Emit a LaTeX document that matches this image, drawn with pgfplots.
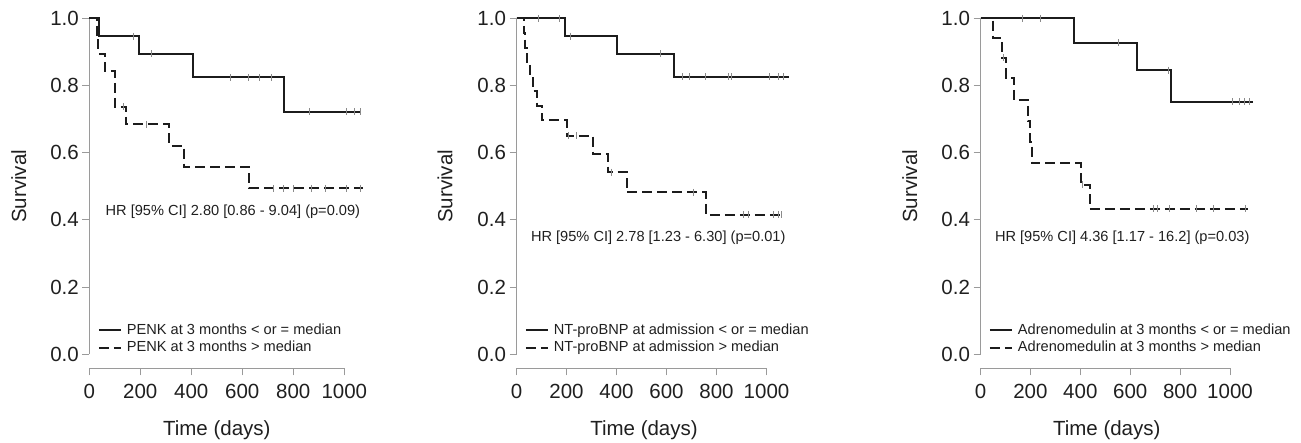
\documentclass[border=0pt]{standalone}
\usepackage{fontspec}
\setmainfont{Liberation Sans}
\usepackage{pgfplots}
\pgfplotsset{compat=1.18}
\definecolor{axgray}{HTML}{9A9A9A}
\definecolor{curve}{HTML}{1C1C1C}
\definecolor{cens}{HTML}{8A8A8A}
\tikzset{
 hrtext/.style={font=\fontsize{14.6bp}{17bp}\selectfont, text=black!88},
 bigtext/.style={font=\fontsize{20.5bp}{24bp}\selectfont, text=black!88},
}
\pgfplotsset{
 kmaxis/.style={
  scale only axis, height=350bp,
  xmin=0, xmax=1000, ymin=-0.0417, ymax=1,
  clip=false,
  axis x line=bottom, axis y line=left,
  axis line style={draw=none,-},
  xtick={0,200,400,600,800,1000}, xticklabels={0,200,400,600,800,1000},
  ytick={0,0.2,0.4,0.6,0.8,1}, yticklabels={0.0,0.2,0.4,0.6,0.8,1.0},
  tick align=outside, major tick length=7bp,
  tick style={axgray, line width=1bp},
  ticklabel style={font=\fontsize{20.5bp}{24bp}\selectfont, text=black!88},
  xticklabel style={yshift=-5bp},
  legend cell align=left,
  legend style={at={(0.033,0.084)}, anchor=west, draw=none, fill=none, inner sep=0pt,
    font=\fontsize{14.6bp}{17bp}\selectfont, text=black!88, row sep=0bp, column sep=3.5bp,
    nodes={inner sep=1.5bp, text height=11.5bp, text depth=3bp}},
  legend image code/.code={\draw[#1] (0bp,0bp) -- (22bp,0bp);},
 },
 surv/.style={const plot, curve, line width=2bp},
 survd/.style={const plot, curve, line width=2bp, dash pattern=on 10bp off 5bp},
 cmark/.style={only marks, mark=|, mark size=3.5bp, cens, line width=0.8bp, forget plot},
}
\begin{document}
\begin{tikzpicture}
% Panel 1: PENK
\begin{axis}[kmaxis, width=255bp, at={(89.3bp,74.7bp)}, anchor=south west]
 \draw[axgray, line width=1bp] (axis cs:0,0) -- (axis cs:0,1);
 \draw[axgray, line width=1bp] (axis cs:0,-0.0417) -- (axis cs:1000,-0.0417);
 \addplot[surv] coordinates {(0,1) (38,0.947) (196,0.894) (405,0.824) (762,0.722) (1067,0.722)};
 \addlegendentry{PENK at 3 months < or = median}
 \addplot[survd] coordinates {(0,1) (30,0.947) (35,0.895) (62,0.842) (100,0.737) (143,0.684) (314,0.621) (371,0.557) (628,0.494) (1074,0.494)};
 \addlegendentry{PENK at 3 months > median}
 \addplot[cmark] coordinates {(172,0.947) (245,0.894) (552,0.824) (624,0.824) (666,0.824) (715,0.824) (863,0.722) (1009,0.722) (1038,0.722) (1062,0.722)};
 \addplot[cmark] coordinates {(133,0.737) (222,0.684) (722,0.494) (761,0.494) (800,0.494) (872,0.494) (924,0.494) (1009,0.494) (1062,0.494)};
 \node[hrtext] at (axis cs:563,0.424) {HR [95\% CI] 2.80 [0.86 - 9.04] (p=0.09)};
 \node[bigtext, rotate=90] at (axis cs:-276,0.5) {Survival};
 \node[bigtext] at (axis cs:500,-0.225) {Time (days)};
\end{axis}
% Panel 2: NT-proBNP
\begin{axis}[kmaxis, width=250bp, at={(516.5bp,74.7bp)}, anchor=south west]
 \draw[axgray, line width=1bp] (axis cs:0,0) -- (axis cs:0,1);
 \draw[axgray, line width=1bp] (axis cs:0,-0.0417) -- (axis cs:1000,-0.0417);
 \addplot[surv] coordinates {(0,1) (195,0.947) (403,0.894) (631,0.826) (1090,0.826)};
 \addlegendentry{NT-proBNP at admission < or = median}
 \addplot[survd] coordinates {(0,1) (30,0.957) (35,0.913) (41,0.870) (54,0.826) (65,0.783) (83,0.739) (101,0.696) (201,0.650) (307,0.596) (367,0.542) (441,0.482) (758,0.415) (1070,0.415)};
 \addlegendentry{NT-proBNP at admission > median}
 \addplot[cmark] coordinates {(87,1) (171,1) (214,0.947) (577,0.894) (663,0.826) (690,0.826) (756,0.826) (847,0.826) (861,0.826) (1010,0.826) (1047,0.826) (1067,0.826)};
 \addplot[cmark] coordinates {(207,0.650) (241,0.650) (381,0.542) (707,0.482) (907,0.415) (927,0.415) (1027,0.415) (1047,0.415) (1061,0.415)};
 \node[hrtext] at (axis cs:567,0.348) {HR [95\% CI] 2.78 [1.23 - 6.30] (p=0.01)};
 \node[bigtext, rotate=90] at (axis cs:-286,0.5) {Survival};
 \node[bigtext] at (axis cs:510,-0.225) {Time (days)};
\end{axis}
% Panel 3: Adrenomedulin
\begin{axis}[kmaxis, width=249.5bp, at={(980.5bp,74.7bp)}, anchor=south west]
 \draw[axgray, line width=1bp] (axis cs:0,0) -- (axis cs:0,1);
 \draw[axgray, line width=1bp] (axis cs:0,-0.0417) -- (axis cs:1000,-0.0417);
 \addplot[surv] coordinates {(0,1) (374,0.927) (627,0.846) (764,0.752) (1093,0.752)};
 \addlegendentry{Adrenomedulin at 3 months < or = median}
 \addplot[survd] coordinates {(0,1) (51,0.941) (85,0.882) (101,0.823) (134,0.757) (190,0.694) (200,0.631) (207,0.568) (401,0.505) (438,0.4325) (1073,0.4325)};
 \addlegendentry{Adrenomedulin at 3 months > median}
 \addplot[cmark] coordinates {(167,1) (242,1) (551,0.927) (752,0.846) (1009,0.752) (1038,0.752) (1058,0.752) (1078,0.752)};
 \addplot[cmark] coordinates {(91,0.882) (410,0.505) (691,0.4325) (709,0.4325) (758,0.4325) (865,0.4325) (932,0.4325) (1063,0.4325)};
 \node[hrtext] at (axis cs:568,0.348) {HR [95\% CI] 4.36 [1.17 - 16.2] (p=0.03)};
 \node[bigtext, rotate=90] at (axis cs:-283,0.5) {Survival};
 \node[bigtext] at (axis cs:506,-0.225) {Time (days)};
\end{axis}
\pgfresetboundingbox
\path[use as bounding box] (0,0) rectangle (1301bp,443bp);
\end{tikzpicture}
\end{document}
